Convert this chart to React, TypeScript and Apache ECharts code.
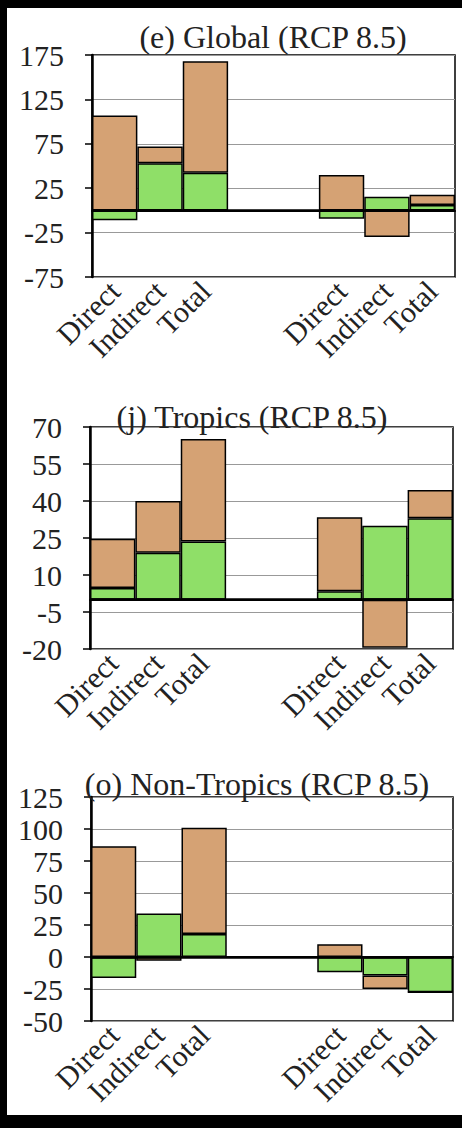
import React, { useEffect, useRef } from "react";
import * as echarts from "echarts";

const categories = ["Direct", "Indirect", "Total", "", "", "Direct", "Indirect", "Total"];

const globalGreen = [-11, 53, 42.5, null, null, -9.5, 15.5, 6];
const globalBrown = [107, 19, 125.5, null, null, 40, -30, 11.5];
const globalTicks = [-75, -25, 25, 75, 125, 175];

const tropicsGreen = [4.7, 19, 23.6, null, null, 3.4, 30, 33];
const tropicsBrown = [20, 21, 41.5, null, null, 30, -19.5, 11.5];
const tropicsTicks = [-20, -5, 10, 25, 40, 55, 70];

const nonTropicsGreen = [-16.5, 34, 18, null, null, -12, -14.5, -27.5];
const nonTropicsBrown = [86.5, -3, 83, null, null, 10, -10.5, 0];
const nonTropicsTicks = [-50, -25, 0, 25, 50, 75, 100, 125];

const titles = ["(e) Global (RCP 8.5)", "(j) Tropics (RCP 8.5)", "(o) Non-Tropics (RCP 8.5)"];

const GREEN = "#8FDF68";
const BROWN = "#D5A274";
const FONT = '"Liberation Serif", "Times New Roman", serif';

export default function App() {
  const ref = useRef<HTMLDivElement>(null);
  useEffect(() => {
    if (!ref.current) return;
    const chart = echarts.init(ref.current, undefined, { renderer: "svg" });
    const grids = [
      { left: 92, top: 55, width: 363, height: 222 },
      { left: 90, top: 427, width: 363, height: 222 },
      { left: 91, top: 797, width: 362, height: 224 },
    ];
    const panels = [
      { green: globalGreen, brown: globalBrown, ticks: globalTicks, title: titles[0], tx: 273, ty: 37 },
      { green: tropicsGreen, brown: tropicsBrown, ticks: tropicsTicks, title: titles[1], tx: 252, ty: 417 },
      { green: nonTropicsGreen, brown: nonTropicsBrown, ticks: nonTropicsTicks, title: titles[2], tx: 257, ty: 784 },
    ];
    const xAxis = panels.map((_, i) => ({
      type: "category",
      gridIndex: i,
      data: categories,
      axisLine: { show: true, lineStyle: { color: "#000", width: 2 } },
      axisTick: { show: false },
      axisLabel: {
        interval: 0,
        rotate: 45,
        margin: 9,
        fontFamily: FONT,
        fontSize: 30,
        color: "#222",
      },
      splitLine: { show: false },
    }));
    const yAxis = panels.map((p, i) => ({
      type: "value",
      gridIndex: i,
      min: p.ticks[0],
      max: p.ticks[p.ticks.length - 1],
      axisLine: { show: true, lineStyle: { color: "#000", width: 2.5 } },
      axisTick: { show: true, inside: false, length: 7, customValues: p.ticks, lineStyle: { color: "#000", width: 1.5 } },
      axisLabel: {
        customValues: p.ticks,
        margin: 28,
        fontFamily: FONT,
        fontSize: 30,
        color: "#222",
      },
      splitLine: { show: true, lineStyle: { color: "#999", width: 1.2 } },
    }));
    const series: any[] = [];
    panels.forEach((p, i) => {
      series.push({
        type: "bar",
        xAxisIndex: i,
        yAxisIndex: i,
        stack: "s" + i,
        data: p.green,
        barCategoryGap: "0%",
        itemStyle: { color: GREEN, borderColor: "#000", borderWidth: 1.5 },
        markLine: {
          silent: true,
          symbol: "none",
          label: { show: false },
          lineStyle: { color: "#000", width: 2.5, type: "solid" },
          data: [{ yAxis: 0 }],
        },
      });
      series.push({
        type: "bar",
        xAxisIndex: i,
        yAxisIndex: i,
        stack: "s" + i,
        data: p.brown,
        barCategoryGap: "0%",
        itemStyle: { color: BROWN, borderColor: "#000", borderWidth: 1.5 },
      });
    });
    chart.setOption({
      animation: false,
      backgroundColor: "transparent",
      grid: grids.map((g) => ({ ...g, show: true, borderColor: "#000", borderWidth: 1.5, backgroundColor: "transparent" })),
      xAxis,
      yAxis,
      series,
      graphic: panels.map((p) => ({
        type: "text",
        x: p.tx,
        y: p.ty,
        z: 100,
        style: {
          text: p.title,
          fontFamily: FONT,
          fontSize: 32,
          fill: "#222",
          align: "center",
          verticalAlign: "middle",
        },
      })),
    });
    return () => chart.dispose();
  }, []);
  return (
    <div style={{ position: "absolute", left: 0, top: 0, width: 462, height: 1128, background: "#000" }}>
      <div style={{ position: "absolute", left: 7, top: 8, width: 455, height: 1107, background: "#fff" }} />
      <div ref={ref} style={{ position: "absolute", left: 0, top: 0, width: 462, height: 1128 }} />
    </div>
  );
}
